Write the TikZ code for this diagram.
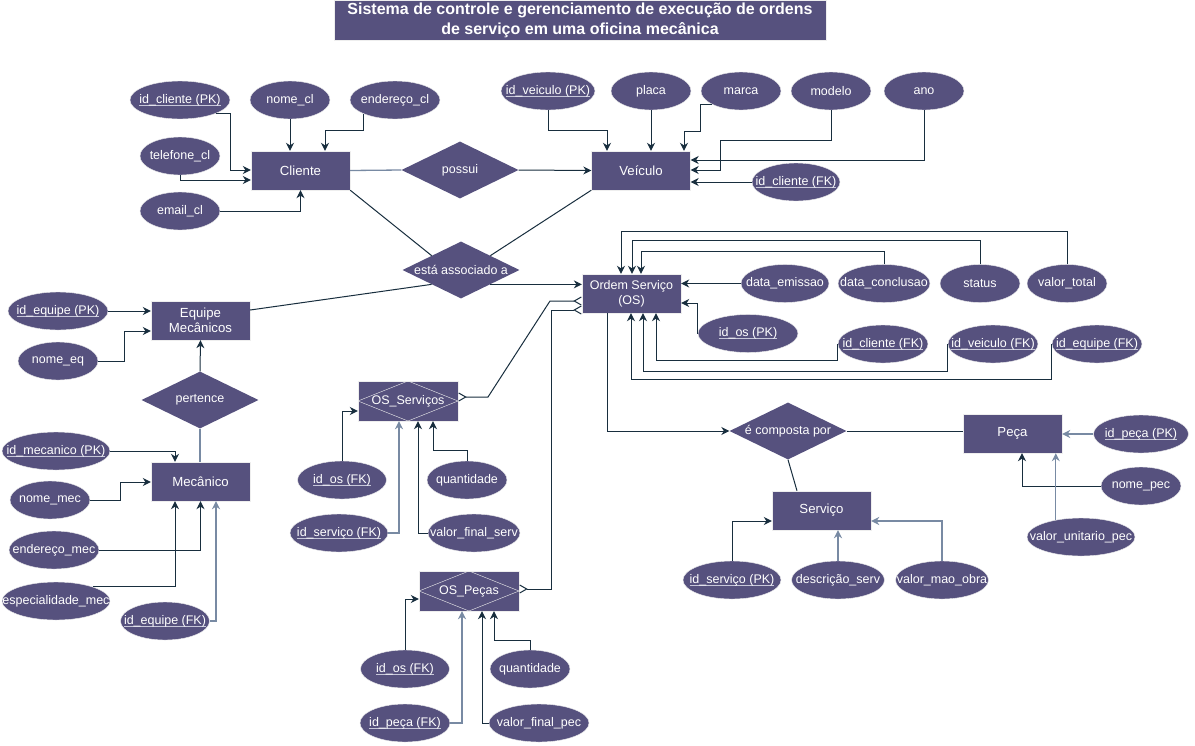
\documentclass[tikz,border=0pt]{standalone}
\usepackage{fontspec}
\setmainfont{Liberation Sans}
\usetikzlibrary{shapes.geometric,arrows.meta}
\definecolor{ErFill}{rgb}{0.337,0.318,0.494}
\definecolor{ErBorder}{rgb}{0.933,0.933,0.933}
\definecolor{LinkClr}{rgb}{0.094,0.180,0.243}
\definecolor{GreyLinkClr}{rgb}{0.471,0.541,0.639}
\definecolor{KeyClr}{rgb}{0.78,0.78,0.85}
\newcommand{\keyattr}[1]{\setbox0=\hbox{#1}\rlap{\color{KeyClr}\rule[-2.5pt]{\wd0}{0.9pt}}\box0}

\begin{document}
\begin{tikzpicture}[x=1pt,y=-1pt,
  entity/.style={rectangle,draw=ErBorder,fill=ErFill,text=white,minimum width=99pt,minimum height=39pt,
    inner sep=0pt,align=center,font=\fontsize{13.2}{15.5}\selectfont},
  assocent/.style={entity,minimum width=100pt,minimum height=40pt,font=\fontsize{12.5}{14}\selectfont,
    path picture={\draw[ErBorder] (path picture bounding box.north) -- (path picture bounding box.east)
      -- (path picture bounding box.south) -- (path picture bounding box.west) -- cycle;}},
  attrib/.style={ellipse,draw=ErBorder,fill=ErFill,text=white,minimum width=#1,minimum height=38pt,
    inner xsep=-30pt,inner ysep=0pt,font=\fontsize{12.5}{14}\selectfont},
  attrib/.default=80pt,
  rel/.style={diamond,fill=ErFill,text=white,minimum width=117pt,minimum height=57pt,
    inner xsep=-30pt,inner ysep=0pt,font=\fontsize{12.5}{14}\selectfont},
  titlebox/.style={rectangle,draw=ErBorder,fill=ErFill,text=white,minimum width=492pt,minimum height=40pt,
    inner sep=0pt,align=center,font=\fontsize{16}{20}\selectfont\bfseries},
  lnk/.style={draw=LinkClr,line width=1pt},
  glnk/.style={draw=GreyLinkClr,line width=1.3pt},
  arr/.style={-{Stealth[length=8pt,width=8pt]}},
  crow/.style={{Straight Barb[reversed,length=7pt,width=8pt]}-{Straight Barb[reversed,length=7pt,width=8pt]}}]

\fill[white] (0,0) rectangle (1195,745);
\useasboundingbox (0,0) rectangle (1195,745);

\node[titlebox] (title) at (580,20) {Sistema de controle e gerenciamento de execução de ordens\\de serviço em uma oficina mecânica};

% entidades
\node[entity] (cli) at (300.5,170.5) {Cliente};
\node[entity] (vei) at (641,170.5) {Veículo};
\node[entity,font=\fontsize{12.5}{15}\selectfont] (os) at (631.5,293.5) {Ordem Serviço\\(OS)};
\node[entity] (equipe) at (200.5,320.5) {Equipe\\Mecânicos};
\node[entity] (mec) at (200.5,481.5) {Mecânico};
\node[entity] (peca) at (1012.5,433.5) {Peça};
\node[entity] (serv) at (821.5,510.5) {Serviço};
\node[assocent] (ossrv) at (408,401) {OS\_Serviços};
\node[assocent] (ospec) at (469,591) {OS\_Peças};

% relacionamentos
\node[rel] (possui) at (460,170) {possui};
\node[rel] (assoc) at (461,270) {está associado a};
\node[rel] (pert) at (200,400) {pertence};
\node[rel] (comp) at (788,431) {é composta por};

% atributos
\node[attrib=100pt] (idclpk) at (180,100) {\keyattr{id\_cliente (PK)}};
\node[attrib] (nomecl) at (290,100) {nome\_cl};
\node[attrib=90pt] (endcl) at (395,100) {endereço\_cl};
\node[attrib] (telcl) at (180,156) {telefone\_cl};
\node[attrib] (emailcl) at (180,211) {email\_cl};

\node[attrib=94pt] (idveipk) at (548,91) {\keyattr{id\_veiculo (PK)}};
\node[attrib] (placa) at (651,91) {placa};
\node[attrib] (marca) at (741,91) {marca};
\node[attrib] (modelo) at (831,91) {modelo};
\node[attrib] (ano) at (924,91) {ano};
\node[attrib=88pt] (idclfk) at (796,182) {\keyattr{id\_cliente (FK)}};

\node[attrib=88pt] (dtemis) at (785,283.5) {data\_emissao};
\node[attrib=92pt] (dtconc) at (884,283.5) {data\_conclusao};
\node[attrib] (status) at (980,283.5) {status};
\node[attrib] (vltot) at (1067,283.5) {valor\_total};
\node[attrib=100pt] (idospk) at (748,333.5) {\keyattr{id\_os (PK)}};
\node[attrib=90pt] (oscli) at (883,344) {\keyattr{id\_cliente (FK)}};
\node[attrib=90pt] (osvei) at (993,344) {\keyattr{id\_veiculo (FK)}};
\node[attrib=90pt] (oseq) at (1097,344) {\keyattr{id\_equipe (FK)}};

\node[attrib=95pt] (idpecpk) at (1141,434) {\keyattr{id\_peça (PK)}};
\node[attrib] (nomepec) at (1141,486) {nome\_pec};
\node[attrib=108pt] (vlunit) at (1081,537) {valor\_unitario\_pec};

\node[attrib=98pt] (idservpk) at (732,580) {\keyattr{id\_serviço (PK)}};
\node[attrib=93pt] (descserv) at (838,580) {descrição\_serv};
\node[attrib=93pt] (vlmao) at (942,580) {valor\_mao\_obra};

\node[attrib=100pt] (ideqpk) at (58,311) {\keyattr{id\_equipe (PK)}};
\node[attrib] (nomeeq) at (58,361) {nome\_eq};

\node[attrib=108pt] (idmecpk) at (56,451) {\keyattr{id\_mecanico (PK)}};
\node[attrib] (nomemec) at (50,500) {nome\_mec};
\node[attrib=90pt] (endmec) at (54,550) {endereço\_mec};
\node[attrib=108pt] (espmec) at (56,601) {especialidade\_mec};
\node[attrib=89pt] (mecqfk) at (165,621) {\keyattr{id\_equipe (FK)}};

\node[attrib=89pt] (ossos) at (342,480) {\keyattr{id\_os (FK)}};
\node[attrib] (ossqt) at (467,480) {quantidade};
\node[attrib=98pt] (osssv) at (339,533) {\keyattr{id\_serviço (FK)}};
\node[attrib=92pt] (ossvl) at (474,533) {valor\_final\_serv};

\node[attrib=89pt] (ospos) at (405,669) {\keyattr{id\_os (FK)}};
\node[attrib] (ospqt) at (530,669) {quantidade};
\node[attrib=90pt] (osppc) at (405,723) {\keyattr{id\_peça (FK)}};
\node[attrib=100pt] (ospvl) at (539,723) {valor\_final\_pec};

% Cliente
\draw[lnk,arr] (idclpk.-20) -| (230,170) -- (cli.west |- 0,170);
\draw[lnk,arr] (telcl.south) |- (cli.west |- 0,180);
\draw[lnk,arr] (emailcl.east) -| (cli.south);
\draw[lnk,arr] (nomecl.south) -- (nomecl.south |- cli.north);
\draw[lnk,arr] (endcl.-157) |- (325,130) -- (cli.north -| 325,0);
\draw[glnk] (cli.east) -- (possui.west);
\draw[lnk,arr] (possui.east) -- (vei.west);

% Veiculo
\draw[lnk,arr] (idveipk.south) |- (607,130) -- (vei.north -| 607,0);
\draw[lnk,arr] (placa.south) -- (vei.north -| placa.south);
\draw[lnk,arr] (marca.-156) -| (700,131) -| (vei.north -| 684,0);
\draw[lnk,arr] (modelo.south) |- (720,140) |- (vei.east |- 0,170);
\draw[lnk,arr] (ano.south) |- (vei.east |- 0,160);
\draw[lnk,arr] (idclfk.west) -- (vei.east |- idclfk.west);

% esta associado a
\draw[lnk] (cli.south east) -- (assoc.north west);
\draw[lnk] (vei.south west) -- (assoc.north east);
\draw[lnk] (equipe.east |- 0,310) -- (assoc.south west);
\draw[lnk,arr] (assoc.south east) -- (os.west |- assoc.south east);

% Ordem Servico
\draw[lnk,arr] (dtemis.west) -- (os.east |- dtemis.west);
\draw[lnk,arr] (idospk.west) |- (os.east |- 0,303);
\draw[lnk,arr] (vltot.north) |- (621,231) -- (os.north -| 621,0);
\draw[lnk,arr] (status.north) |- (632,240) -- (os.north -| 632,0);
\draw[lnk,arr] (dtconc.north) |- (641,251) -- (os.north -| 641,0);
\draw[lnk,arr] (oscli.west) |- (656,360) -- (os.south -| 656,0);
\draw[lnk,arr] (osvei.west) |- (643,371) -- (os.south -| 643,0);
\draw[lnk,arr] (oseq.west) |- (631,379) -- (os.south -| 631,0);
\draw[lnk,arr] (os.south -| 607,0) |- (comp.west);
\draw[lnk,crow] (ossrv.east |- 0,397) -- (488,397) -- (550,301) -- (os.west |- 0,301);
\draw[lnk,crow] (ospec.east |- 0,589) -| (551,310) -- (os.west |- 0,310);

% e composta por
\draw[lnk] (comp.east) -- (peca.west |- comp.east);
\draw[lnk] (comp.south) -- (serv.north -| 797,0);

% Peca
\draw[glnk,arr] (idpecpk.west) -- (peca.east |- idpecpk.west);
\draw[lnk,arr] (nomepec.west) -| (peca.south -| 1022,0);
\draw[glnk,arr] (vlunit.146) -- (peca.south -| vlunit.146);

% Servico
\draw[lnk,arr] (idservpk.north) |- (serv.west |- 0,521);
\draw[glnk,arr] (descserv.north) -- (serv.south -| descserv.north);
\draw[glnk,arr] (vlmao.north) |- (serv.east |- 0,521);

% Equipe
\draw[lnk,arr] (ideqpk.east) -- (equipe.west |- ideqpk.east);
\draw[lnk,arr] (nomeeq.east) -| (124,331) -- (equipe.west |- 0,331);
\draw[lnk,arr] (pert.north) -- (equipe.south);
\draw[glnk] (pert.south) -- (mec.north -| pert.south);

% Mecanico
\draw[lnk,arr] (idmecpk.east) -| (mec.north -| 175,0);
\draw[lnk,arr] (nomemec.east) -| (120,482) -- (mec.west |- 0,482);
\draw[lnk,arr] (endmec.east) -| (mec.south);
\draw[lnk,arr] (espmec.21) -| (mec.south -| 175,0);
\draw[glnk,arr] (mecqfk.east) -| (mec.south -| 216,0);

% OS_Servicos
\draw[lnk,arr] (ossos.north) |- (ossrv.west |- 0,411);
\draw[glnk,arr] (osssv.east) -| (ossrv.south -| 399,0);
\draw[lnk,arr] (ossvl.west) -| (ossrv.south -| 418,0);
\draw[lnk,arr] (ossqt.north) |- (433,450) -- (ossrv.south -| 433,0);

% OS_Pecas
\draw[lnk,arr] (ospos.north) |- (ospec.west |- 0,599);
\draw[glnk,arr] (osppc.east) -| (ospec.south -| 462,0);
\draw[lnk,arr] (ospvl.west) -| (ospec.south -| 482,0);
\draw[lnk,arr] (ospqt.north) |- (494,640) -- (ospec.south -| 494,0);

\end{tikzpicture}
\end{document}
